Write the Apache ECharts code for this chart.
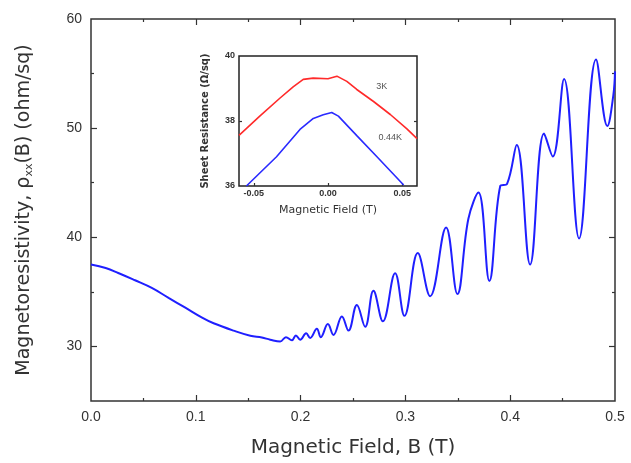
<!DOCTYPE html>
<html><head><meta charset="utf-8">
<script src="https://cdn.jsdelivr.net/npm/echarts@6/dist/echarts.min.js"></script>
<style>html,body{margin:0;padding:0;background:#fff}#c{width:631px;height:463px}</style>
</head><body><div id="c"></div>
<script>
// Main curve: magnetic field B (T) and magnetoresistivity rho_xx (ohm/sq)
const fieldB = [0.000,0.014,0.026,0.042,0.058,0.074,0.090,0.106,0.117,0.136,0.152,0.163,0.171,0.1805,0.186,0.1917,0.1955,0.1996,0.2053,0.2091,0.2155,0.2193,0.226,0.2314,0.2394,0.2457,0.2537,0.2616,0.2695,0.2785,0.2902,0.2991,0.3118,0.3236,0.3388,0.3496,0.3601,0.3697,0.3801,0.3905,0.397,0.4062,0.419,0.4323,0.4406,0.4514,0.4657,0.4819,0.4927,0.4984,0.500];
const rhoXX = [37.50,37.18,36.73,36.06,35.36,34.45,33.55,32.64,32.12,31.45,30.98,30.82,30.62,30.45,30.85,30.57,31.00,30.62,31.20,30.78,31.62,30.85,32.05,31.05,32.75,31.45,33.80,31.80,35.10,32.30,36.70,32.80,38.55,34.60,40.90,34.80,41.70,44.10,36.00,44.70,44.90,48.45,37.50,49.50,47.40,54.50,39.90,56.30,50.20,53.00,55.20];
const xTicks = [0, 0.1, 0.2, 0.3, 0.4, 0.5];
const xMinorTicks = [0.05, 0.15, 0.25, 0.35, 0.45];
const yTicks = [30, 40, 50, 60];
const yMinorTicks = [35, 45, 55];

// Inset: sheet resistance vs field at 3K and 0.44K
const insetB3K = [-0.060,-0.046,-0.0325,-0.0235,-0.0167,-0.010,0.000,0.006,0.0127,0.0194,0.0307,0.042,0.0532,0.060];
const insetR3K = [37.56,38.15,38.70,39.05,39.28,39.32,39.30,39.38,39.22,38.97,38.60,38.20,37.76,37.46];
const insetB044 = [-0.055,-0.0347,-0.0189,-0.0099,-0.0032,0.0025,0.007,0.0194,0.033,0.051];
const insetR044 = [36.00,36.90,37.74,38.08,38.19,38.26,38.15,37.55,36.90,36.03];
const insetXTicks = [-0.05, 0, 0.05];
const insetYTicks = [36, 38, 40];
const insetLabels = [
  {name: '3K', coord: [0.0363, 39.05]},
  {name: '0.44K', coord: [0.042, 37.49]}
];

const FONT = 'Liberation Sans';
const TFONT = 'DejaVu Sans';
const TXT = '#333';
const pairs = (xs, ys) => xs.map((x, i) => [x, ys[i]]);

function frameAxis(grid, pos, min, max, ticks, len, extra) {
  return Object.assign({
    type: 'value', gridIndex: grid, position: pos, min: min, max: max,
    axisLine: {show: false, onZero: false},
    splitLine: {show: false},
    axisLabel: {show: false},
    axisTick: {show: true, inside: true, length: len, customValues: ticks,
      lineStyle: {color: '#333', width: 1.2}}
  }, extra || {});
}

const chart = echarts.init(document.getElementById('c'));
chart.setOption({
  animation: false,
  backgroundColor: '#fff',
  grid: [
    {left: 91, right: 16, top: 19, bottom: 60, show: true, borderColor: '#333', borderWidth: 1.5, backgroundColor: 'transparent'},
    {left: 239, right: 214, top: 56, bottom: 277, show: true, borderColor: '#222', borderWidth: 1.5, backgroundColor: '#fff'}
  ],
  xAxis: [
    frameAxis(0, 'bottom', 0, 0.5, [0.1, 0.2, 0.3, 0.4], 6, {
      name: 'Magnetic Field, B (T)', nameLocation: 'middle', nameGap: 37,
      nameTextStyle: {fontFamily: TFONT, fontSize: 20, color: TXT},
      axisLabel: {show: true, customValues: xTicks, margin: 9, fontFamily: FONT, fontSize: 14, color: TXT,
        formatter: v => v.toFixed(1)}
    }),
    frameAxis(0, 'bottom', 0, 0.5, xMinorTicks, 3),
    frameAxis(0, 'top', 0, 0.5, [0.1, 0.2, 0.3, 0.4], 6),
    frameAxis(0, 'top', 0, 0.5, xMinorTicks, 3),
    frameAxis(1, 'bottom', -0.06, 0.06, insetXTicks, 3, {
      name: 'Magnetic Field (T)', nameLocation: 'middle', nameGap: 19,
      nameTextStyle: {fontFamily: TFONT, fontSize: 11, color: TXT},
      axisLabel: {show: true, customValues: insetXTicks, margin: 3, fontFamily: FONT, fontSize: 9, fontWeight: 'bold', color: TXT,
        formatter: v => v.toFixed(2)}
    })
  ],
  yAxis: [
    frameAxis(0, 'left', 25, 60, [30, 40, 50], 6, {
      name: 'Magnetoresistivity, ρ{s|xx}(B) (ohm/sq)', nameLocation: 'middle', nameGap: 56,
      nameTextStyle: {fontFamily: TFONT, fontSize: 19, color: TXT,
        rich: {s: {fontFamily: TFONT, fontSize: 11, color: TXT, padding: [10, 0, 0, 0]}}},
      axisLabel: {show: true, customValues: yTicks, margin: 9, fontFamily: FONT, fontSize: 14, color: TXT}
    }),
    frameAxis(0, 'left', 25, 60, yMinorTicks, 3),
    frameAxis(0, 'right', 25, 60, [30, 40, 50], 6),
    frameAxis(0, 'right', 25, 60, yMinorTicks, 3),
    frameAxis(1, 'left', 36, 40, [38], 3, {
      name: 'Sheet Resistance (Ω/sq)', nameLocation: 'middle', nameGap: 29,
      nameTextStyle: {fontFamily: TFONT, fontSize: 10, fontWeight: 'bold', color: TXT},
      axisLabel: {show: true, customValues: insetYTicks, margin: 4, fontFamily: FONT, fontSize: 9, fontWeight: 'bold', color: TXT}
    }),
    frameAxis(1, 'right', 36, 40, [38], 3)
  ],
  series: [
    {type: 'line', xAxisIndex: 0, yAxisIndex: 0, data: pairs(fieldB, rhoXX), smooth: 0.4,
      showSymbol: false, lineStyle: {color: '#1f1fff', width: 2}, clip: true},
    {type: 'line', xAxisIndex: 4, yAxisIndex: 4, data: pairs(insetB3K, insetR3K),
      showSymbol: false, lineStyle: {color: '#ff2a2a', width: 1.6}, clip: true,
      markPoint: {symbol: 'circle', symbolSize: 0, silent: true,
        data: [insetLabels[0]].map(d => ({coord: d.coord, value: d.name})),
        label: {show: true, formatter: p => p.data.value, fontFamily: FONT, fontSize: 9, color: '#555'}}},
    {type: 'line', xAxisIndex: 4, yAxisIndex: 4, data: pairs(insetB044, insetR044),
      showSymbol: false, lineStyle: {color: '#2a2aff', width: 1.6}, clip: true,
      markPoint: {symbol: 'circle', symbolSize: 0, silent: true,
        data: [insetLabels[1]].map(d => ({coord: d.coord, value: d.name})),
        label: {show: true, formatter: p => p.data.value, fontFamily: FONT, fontSize: 9, color: '#555'}}}
  ]
});
</script></body></html>
